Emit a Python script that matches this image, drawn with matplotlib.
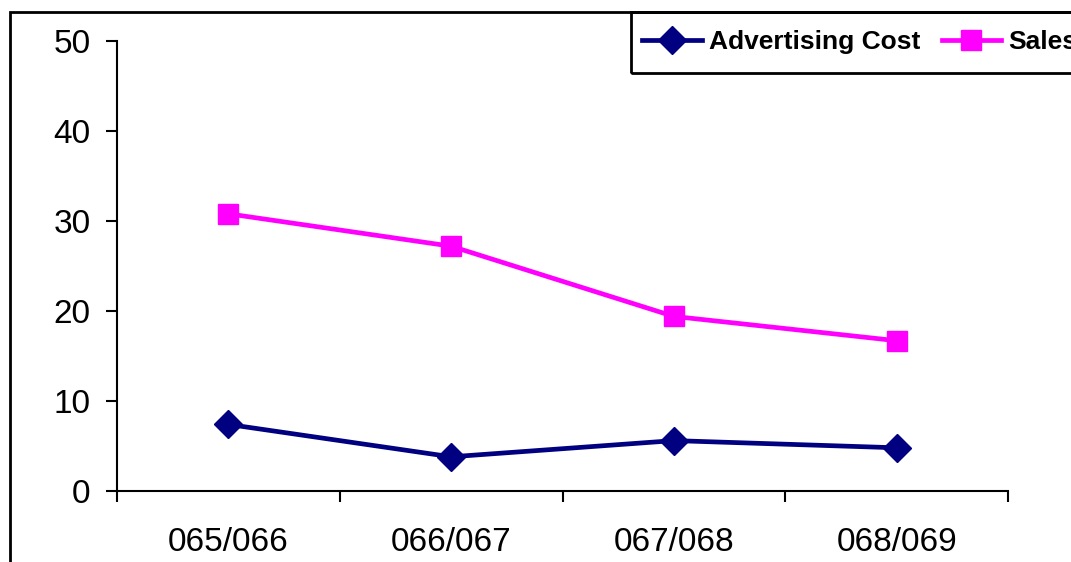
import matplotlib.pyplot as plt
from matplotlib.patches import Rectangle

# Yearly figures
years = ['065/066', '066/067', '067/068', '068/069']
advertising_cost = [7.4, 3.8, 5.6, 4.8]
sales = [30.8, 27.2, 19.4, 16.7]

plt.rcParams['font.family'] = ['Liberation Sans', 'DejaVu Sans']

fig = plt.figure(figsize=(10.71, 5.62), dpi=100)
ax = fig.add_axes([117 / 1071, 1 - 491 / 562, (1008 - 117) / 1071, (491 - 41) / 562])

x = list(range(len(years)))
ax.plot(x, advertising_cost, color='#000080', lw=3.4, marker='D', ms=14,
        label='Advertising Cost')
ax.plot(x, sales, color='#FF00FF', lw=3.4, marker='s', ms=15,
        label='Sales')

ax.set_xlim(-0.5, len(years) - 0.5)
ax.set_ylim(0, 50)
ax.set_yticks([0, 10, 20, 30, 40, 50])
ax.set_xticks(x)
ax.set_xticklabels(years)
ax.set_xticks([i - 0.5 for i in range(len(years) + 1)], minor=True)
ax.tick_params(axis='x', which='major', length=0, pad=26, labelsize=24)
ax.tick_params(axis='x', which='minor', length=8, width=1.5, direction='out')
ax.tick_params(axis='y', length=8, width=1.5, pad=11, labelsize=24)
for side in ['top', 'right']:
    ax.spines[side].set_visible(False)
for side in ['left', 'bottom']:
    ax.spines[side].set_linewidth(1.5)

# outer chart frame running off the canvas
fig.patches.append(Rectangle((10 / 1071, -0.2), 1.2, 1 - 12 / 562 + 0.2,
                             transform=fig.transFigure, fill=False,
                             ec='black', lw=2))

# legend box, also running off the right edge
fig.patches.append(Rectangle((631 / 1071, 1 - 73 / 562), 0.5, 61 / 562,
                             transform=fig.transFigure, fill=False,
                             ec='black', lw=2))
fig.legend(loc='center left', bbox_to_anchor=(642 / 1071, 1 - 42 / 562),
           ncol=2, frameon=False, prop={'weight': 'bold', 'size': 19},
           handlelength=2.27, handletextpad=0.27, columnspacing=0.8,
           borderpad=0, borderaxespad=0)

fig.savefig('out.png', dpi=100)
